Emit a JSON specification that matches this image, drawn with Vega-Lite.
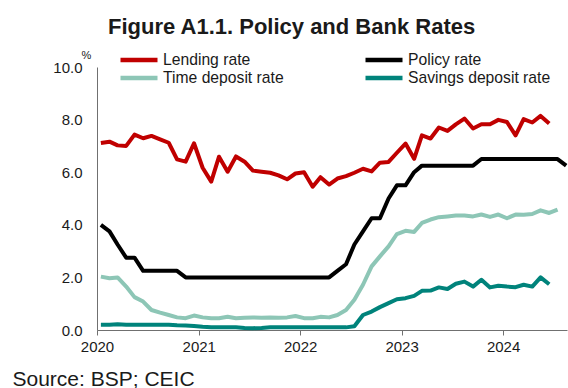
{
  "$schema": "https://vega.github.io/schema/vega-lite/v6.json",
  "width": 470,
  "height": 263,
  "autosize": {"type": "none"},
  "padding": {"left": 97, "top": 67, "right": 1, "bottom": 58},
  "background": "white",
  "config": {"view": {"stroke": null}, "font": "Liberation Sans"},
  "title": {
    "text": "Figure A1.1. Policy and Bank Rates",
    "font": "Liberation Sans",
    "fontSize": 22,
    "fontWeight": "bold",
    "color": "#1a1a1a",
    "anchor": "start",
    "frame": "group",
    "dx": 11,
    "offset": 10
  },
  "data": {
    "values": [
      {"d": "2020-01-15", "Lending rate": 7.11, "Policy rate": 4.0, "Time deposit rate": 2.03, "Savings deposit rate": 0.2},
      {"d": "2020-02-15", "Lending rate": 7.16, "Policy rate": 3.75, "Time deposit rate": 1.97, "Savings deposit rate": 0.2},
      {"d": "2020-03-15", "Lending rate": 7.02, "Policy rate": 3.25, "Time deposit rate": 2.0, "Savings deposit rate": 0.22},
      {"d": "2020-04-15", "Lending rate": 7.0, "Policy rate": 2.75, "Time deposit rate": 1.65, "Savings deposit rate": 0.2},
      {"d": "2020-05-15", "Lending rate": 7.43, "Policy rate": 2.75, "Time deposit rate": 1.25, "Savings deposit rate": 0.2},
      {"d": "2020-06-15", "Lending rate": 7.29, "Policy rate": 2.25, "Time deposit rate": 1.08, "Savings deposit rate": 0.2},
      {"d": "2020-07-15", "Lending rate": 7.38, "Policy rate": 2.25, "Time deposit rate": 0.76, "Savings deposit rate": 0.2},
      {"d": "2020-08-15", "Lending rate": 7.25, "Policy rate": 2.25, "Time deposit rate": 0.66, "Savings deposit rate": 0.2},
      {"d": "2020-09-15", "Lending rate": 7.12, "Policy rate": 2.25, "Time deposit rate": 0.57, "Savings deposit rate": 0.2},
      {"d": "2020-10-15", "Lending rate": 6.49, "Policy rate": 2.25, "Time deposit rate": 0.48, "Savings deposit rate": 0.18},
      {"d": "2020-11-15", "Lending rate": 6.4, "Policy rate": 2.0, "Time deposit rate": 0.45, "Savings deposit rate": 0.17},
      {"d": "2020-12-15", "Lending rate": 7.1, "Policy rate": 2.0, "Time deposit rate": 0.55, "Savings deposit rate": 0.15},
      {"d": "2021-01-15", "Lending rate": 6.17, "Policy rate": 2.0, "Time deposit rate": 0.48, "Savings deposit rate": 0.12},
      {"d": "2021-02-15", "Lending rate": 5.64, "Policy rate": 2.0, "Time deposit rate": 0.45, "Savings deposit rate": 0.1},
      {"d": "2021-03-15", "Lending rate": 6.59, "Policy rate": 2.0, "Time deposit rate": 0.45, "Savings deposit rate": 0.1},
      {"d": "2021-04-15", "Lending rate": 6.02, "Policy rate": 2.0, "Time deposit rate": 0.5, "Savings deposit rate": 0.1},
      {"d": "2021-05-15", "Lending rate": 6.6, "Policy rate": 2.0, "Time deposit rate": 0.45, "Savings deposit rate": 0.1},
      {"d": "2021-06-15", "Lending rate": 6.4, "Policy rate": 2.0, "Time deposit rate": 0.47, "Savings deposit rate": 0.08},
      {"d": "2021-07-15", "Lending rate": 6.06, "Policy rate": 2.0, "Time deposit rate": 0.48, "Savings deposit rate": 0.07},
      {"d": "2021-08-15", "Lending rate": 6.02, "Policy rate": 2.0, "Time deposit rate": 0.47, "Savings deposit rate": 0.08},
      {"d": "2021-09-15", "Lending rate": 5.98, "Policy rate": 2.0, "Time deposit rate": 0.48, "Savings deposit rate": 0.1},
      {"d": "2021-10-15", "Lending rate": 5.88, "Policy rate": 2.0, "Time deposit rate": 0.47, "Savings deposit rate": 0.1},
      {"d": "2021-11-15", "Lending rate": 5.73, "Policy rate": 2.0, "Time deposit rate": 0.48, "Savings deposit rate": 0.1},
      {"d": "2021-12-15", "Lending rate": 5.95, "Policy rate": 2.0, "Time deposit rate": 0.53, "Savings deposit rate": 0.1},
      {"d": "2022-01-15", "Lending rate": 6.0, "Policy rate": 2.0, "Time deposit rate": 0.45, "Savings deposit rate": 0.1},
      {"d": "2022-02-15", "Lending rate": 5.45, "Policy rate": 2.0, "Time deposit rate": 0.45, "Savings deposit rate": 0.1},
      {"d": "2022-03-15", "Lending rate": 5.81, "Policy rate": 2.0, "Time deposit rate": 0.5, "Savings deposit rate": 0.1},
      {"d": "2022-04-15", "Lending rate": 5.53, "Policy rate": 2.0, "Time deposit rate": 0.48, "Savings deposit rate": 0.1},
      {"d": "2022-05-15", "Lending rate": 5.76, "Policy rate": 2.25, "Time deposit rate": 0.57, "Savings deposit rate": 0.1},
      {"d": "2022-06-15", "Lending rate": 5.85, "Policy rate": 2.5, "Time deposit rate": 0.76, "Savings deposit rate": 0.1},
      {"d": "2022-07-15", "Lending rate": 5.98, "Policy rate": 3.25, "Time deposit rate": 1.15, "Savings deposit rate": 0.14},
      {"d": "2022-08-15", "Lending rate": 6.13, "Policy rate": 3.75, "Time deposit rate": 1.72, "Savings deposit rate": 0.57},
      {"d": "2022-09-15", "Lending rate": 6.03, "Policy rate": 4.25, "Time deposit rate": 2.42, "Savings deposit rate": 0.7},
      {"d": "2022-10-15", "Lending rate": 6.36, "Policy rate": 4.25, "Time deposit rate": 2.8, "Savings deposit rate": 0.87},
      {"d": "2022-11-15", "Lending rate": 6.39, "Policy rate": 5.0, "Time deposit rate": 3.18, "Savings deposit rate": 1.02},
      {"d": "2022-12-15", "Lending rate": 6.74, "Policy rate": 5.5, "Time deposit rate": 3.65, "Savings deposit rate": 1.17},
      {"d": "2023-01-15", "Lending rate": 7.09, "Policy rate": 5.5, "Time deposit rate": 3.77, "Savings deposit rate": 1.21},
      {"d": "2023-02-15", "Lending rate": 6.51, "Policy rate": 6.0, "Time deposit rate": 3.73, "Savings deposit rate": 1.3},
      {"d": "2023-03-15", "Lending rate": 7.4, "Policy rate": 6.25, "Time deposit rate": 4.07, "Savings deposit rate": 1.49},
      {"d": "2023-04-15", "Lending rate": 7.28, "Policy rate": 6.25, "Time deposit rate": 4.2, "Savings deposit rate": 1.5},
      {"d": "2023-05-15", "Lending rate": 7.7, "Policy rate": 6.25, "Time deposit rate": 4.29, "Savings deposit rate": 1.62},
      {"d": "2023-06-15", "Lending rate": 7.57, "Policy rate": 6.25, "Time deposit rate": 4.32, "Savings deposit rate": 1.56},
      {"d": "2023-07-15", "Lending rate": 7.82, "Policy rate": 6.25, "Time deposit rate": 4.35, "Savings deposit rate": 1.76},
      {"d": "2023-08-15", "Lending rate": 8.04, "Policy rate": 6.25, "Time deposit rate": 4.35, "Savings deposit rate": 1.84},
      {"d": "2023-09-15", "Lending rate": 7.66, "Policy rate": 6.25, "Time deposit rate": 4.32, "Savings deposit rate": 1.65},
      {"d": "2023-10-15", "Lending rate": 7.82, "Policy rate": 6.5, "Time deposit rate": 4.39, "Savings deposit rate": 1.91},
      {"d": "2023-11-15", "Lending rate": 7.82, "Policy rate": 6.5, "Time deposit rate": 4.3, "Savings deposit rate": 1.62},
      {"d": "2023-12-15", "Lending rate": 7.99, "Policy rate": 6.5, "Time deposit rate": 4.39, "Savings deposit rate": 1.68},
      {"d": "2024-01-15", "Lending rate": 7.91, "Policy rate": 6.5, "Time deposit rate": 4.25, "Savings deposit rate": 1.65},
      {"d": "2024-02-15", "Lending rate": 7.4, "Policy rate": 6.5, "Time deposit rate": 4.39, "Savings deposit rate": 1.63},
      {"d": "2024-03-15", "Lending rate": 8.02, "Policy rate": 6.5, "Time deposit rate": 4.38, "Savings deposit rate": 1.72},
      {"d": "2024-04-15", "Lending rate": 7.89, "Policy rate": 6.5, "Time deposit rate": 4.41, "Savings deposit rate": 1.65},
      {"d": "2024-05-15", "Lending rate": 8.14, "Policy rate": 6.5, "Time deposit rate": 4.55, "Savings deposit rate": 2.0},
      {"d": "2024-06-15", "Lending rate": 7.85, "Policy rate": 6.5, "Time deposit rate": 4.45, "Savings deposit rate": 1.74},
      {"d": "2024-07-15", "Policy rate": 6.5, "Time deposit rate": 4.58},
      {"d": "2024-08-15", "Policy rate": 6.25}
    ]
  },
  "transform": [
    {"fold": ["Lending rate", "Policy rate", "Time deposit rate", "Savings deposit rate"], "as": ["series", "v"]},
    {"filter": "isValid(datum.v)"}
  ],
  "mark": {"type": "line", "strokeWidth": 4, "strokeJoin": "round", "clip": false},
  "encoding": {
    "x": {
      "field": "d",
      "type": "temporal",
      "scale": {"type": "utc", "domain": [{"year": 2020, "month": 1, "date": 1, "utc": true}, {"year": 2024, "month": 8, "date": 18, "utc": true}]},
      "axis": {
        "values": [{"year": 2020, "month": 1, "date": 1, "utc": true}, {"year": 2021, "month": 1, "date": 1, "utc": true}, {"year": 2022, "month": 1, "date": 1, "utc": true}, {"year": 2023, "month": 1, "date": 1, "utc": true}, {"year": 2024, "month": 1, "date": 1, "utc": true}],
        "format": "%Y",
        "formatType": "utc",
        "grid": false,
        "domainColor": "#707070",
        "tickColor": "#707070",
        "tickSize": 5,
        "labelFontSize": 15,
        "labelColor": "#1a1a1a",
        "labelPadding": 4,
        "labelFlush": false,
        "labelOverlap": false,
        "title": "Source: BSP; CEIC",
        "titleFontSize": 21,
        "titleFontWeight": "normal",
        "titleColor": "#1a1a1a",
        "titleX": -85,
        "titleY": 55,
        "titleAlign": "left",
        "titleBaseline": "alphabetic"
      }
    },
    "y": {
      "field": "v",
      "type": "quantitative",
      "scale": {"domain": [0, 10], "nice": false},
      "axis": {
        "values": [0, 2, 4, 6, 8, 10],
        "format": ".1f",
        "ticks": false,
        "grid": false,
        "domainColor": "#707070",
        "labelFontSize": 15,
        "labelColor": "#1a1a1a",
        "labelPadding": 15,
        "title": "%",
        "titleAngle": 0,
        "titleFontSize": 11,
        "titleFontWeight": "normal",
        "titleColor": "#1a1a1a",
        "titleX": -11,
        "titleY": -9,
        "titleAlign": "center",
        "titleBaseline": "alphabetic"
      }
    },
    "color": {
      "field": "series",
      "type": "nominal",
      "scale": {
        "domain": ["Lending rate", "Policy rate", "Time deposit rate", "Savings deposit rate"],
        "range": ["#C00000", "#000000", "#8DC6B6", "#00837B"]
      },
      "legend": {
        "orient": "none",
        "legendX": 21,
        "legendY": -15,
        "direction": "horizontal",
        "columns": 2,
        "columnPadding": 79,
        "rowPadding": 2,
        "clipHeight": 16,
        "symbolType": "stroke",
        "symbolStrokeWidth": 4.5,
        "symbolSize": 1369,
        "labelFontSize": 15.7,
        "labelOffset": 3,
        "labelColor": "#1a1a1a",
        "labelLimit": 300,
        "title": null,
        "padding": 0
      }
    }
  }
}
